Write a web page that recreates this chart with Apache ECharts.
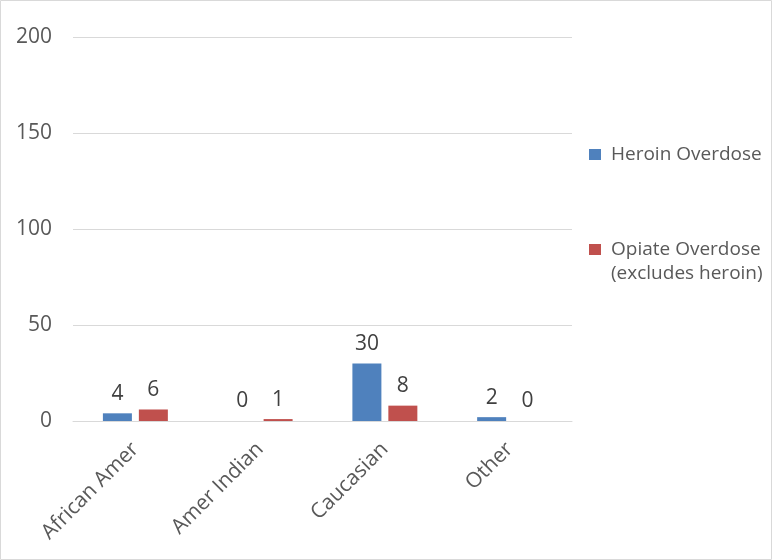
<!DOCTYPE html>
<html><head><meta charset="utf-8">
<script src="https://cdn.jsdelivr.net/npm/echarts@6/dist/echarts.min.js"></script>
<style>html,body{margin:0;padding:0;background:#fff}#c{width:772px;height:560px}</style>
</head><body><div id="c"></div>
<script>
const categories = ['African Amer', 'Amer Indian', 'Caucasian', 'Other'];
const heroin = [4, 0, 30, 2];
const opiate = [6, 1, 8, 0];
const seriesNames = ['Heroin Overdose', 'Opiate Overdose (excludes heroin)'];
const yTicks = [0, 50, 100, 150, 200];

const FONT = '"Open Sans", Lato, sans-serif';
const chart = echarts.init(document.getElementById('c'));
chart.setOption({
  animation: false,
  textStyle: { fontFamily: FONT },
  grid: { left: 73, right: 200, top: 37, bottom: 139 },
  legend: {
    orient: 'vertical', left: 589, top: 145, itemGap: 76, padding: 0,
    itemWidth: 12, itemHeight: 11, icon: 'rect',
    data: seriesNames,
    formatter: n => n === seriesNames[1] ? 'Opiate Overdose' : n,
    textStyle: { color: '#595959', fontSize: 19, fontFamily: FONT, padding: [0, 0, 0, 5] }
  },
  graphic: [
    { type: 'rect', shape: { x: 0.5, y: 0.5, width: 771, height: 559 }, style: { fill: 'none', stroke: '#d9d9d9', lineWidth: 1 }, silent: true },
    { type: 'text', left: 611, top: 264, style: { text: '(excludes heroin)', fill: '#595959', font: '19px ' + FONT } }
  ],
  xAxis: {
    type: 'category', data: categories,
    axisLine: { show: true, lineStyle: { color: '#d9d9d9' } },
    axisTick: { show: false },
    axisLabel: { rotate: 45, color: '#595959', fontSize: 21, margin: 25, interval: 0 }
  },
  yAxis: {
    type: 'value', min: yTicks[0], max: yTicks[yTicks.length - 1], interval: 50,
    axisLine: { show: false }, axisTick: { show: false },
    axisLabel: { color: '#595959', fontSize: 21, margin: 21 },
    splitLine: { lineStyle: { color: '#d9d9d9', width: 1 } }
  },
  series: [
    { name: seriesNames[0], type: 'bar', data: heroin, barWidth: 29, barGap: '24%',
      itemStyle: { color: '#4f81bd' },
      label: { show: true, position: 'top', distance: 9, color: '#404040', fontSize: 21 } },
    { name: seriesNames[1], type: 'bar', data: opiate, barWidth: 29,
      itemStyle: { color: '#c0504d' },
      label: { show: true, position: 'top', distance: 9, color: '#404040', fontSize: 21 } }
  ]
});
</script></body></html>
